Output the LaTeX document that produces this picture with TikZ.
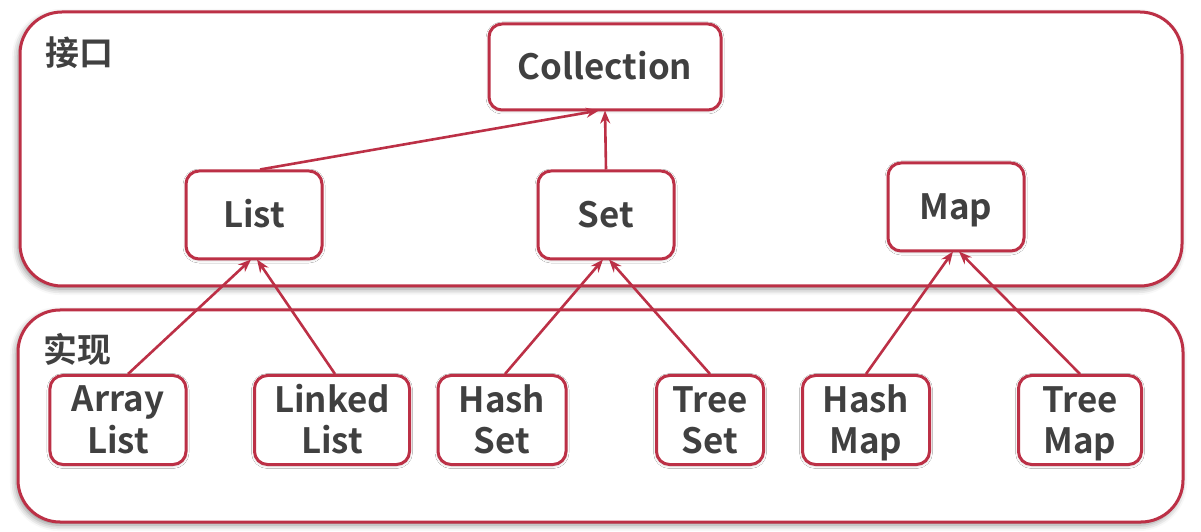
\documentclass[tikz,border=0pt]{standalone}
\usepackage{fontspec}
\setmainfont{Noto Sans CJK SC}[BoldFont={Noto Sans CJK SC Bold}]
\usetikzlibrary{shadows.blur,arrows.meta}
\definecolor{frame}{RGB}{188,48,70}
\definecolor{txt}{RGB}{64,64,64}
\newcommand{\mystrut}{\rule[-7.2bp]{0pt}{40bp}}
\newcommand{\oneline}[1]{\mystrut#1}
\newcommand{\twoline}[2]{\mystrut#1\\\mystrut#2}
\tikzset{
  group/.style={draw=frame, line width=3bp, rounded corners=42bp, fill=white,
    blur shadow={shadow xshift=-2bp, shadow yshift=-3bp, shadow blur radius=6bp, shadow opacity=45}},
  box/.style={draw=frame, line width=3bp, rounded corners=13bp, fill=white,
    text=txt, font=\fontsize{35}{40}\selectfont\bfseries, align=center,
    inner sep=0pt, blur shadow={shadow xshift=0bp, shadow yshift=-1bp, shadow blur radius=3bp, shadow opacity=25}},
  grouplabel/.style={text=txt, font=\fontsize{34}{38}\selectfont\bfseries, anchor=west, inner sep=0pt},
  link/.style={draw=frame, line width=2.6bp, -{Stealth[length=13bp,width=10bp]}}
}
\begin{document}
\begin{tikzpicture}[x=1bp,y=-1bp]
\useasboundingbox (0,0) rectangle (1201,532);
% group frames
\path[group] (20,12) rectangle (1182,286);
\path[group] (18,310) rectangle (1183,522);
\node[grouplabel] (lif) at (45,53) {接口};
\node[grouplabel] (limpl) at (43,349) {实现};
% interface nodes
\node[box, minimum width=232bp, minimum height=86bp] (coll) at (605,67) {\oneline{Collection}};
\node[box, minimum width=136bp, minimum height=88bp] (list) at (254,215) {\oneline{List}};
\node[box, minimum width=136bp, minimum height=88bp] (set) at (606,215) {\oneline{Set}};
\node[box, minimum width=136bp, minimum height=88bp] (map) at (956,207) {\oneline{Map}};
% implementation nodes
\node[box, minimum width=136bp, minimum height=89bp] (al) at (118,420) {\twoline{Array}{List}};
\node[box, minimum width=155bp, minimum height=89bp] (ll) at (332,420) {\twoline{Linked}{List}};
\node[box, minimum width=128bp, minimum height=89bp] (hs) at (502,420) {\twoline{Hash}{Set}};
\node[box, minimum width=107bp, minimum height=89bp] (ts) at (710,420) {\twoline{Tree}{Set}};
\node[box, minimum width=127bp, minimum height=89bp] (hm) at (866,420) {\twoline{Hash}{Map}};
\node[box, minimum width=123bp, minimum height=89bp] (tm) at (1080,420) {\twoline{Tree}{Map}};
% connectors
\draw[link] ([xshift=6bp]list.north) -- ([xshift=-6bp,yshift=1bp]coll.south);
\draw[link] (set.north) -- ([yshift=1bp]coll.south);
\draw[link] ([xshift=10bp]al.north) -- ([xshift=-3bp,yshift=1bp]list.south);
\draw[link] ([xshift=3bp]ll.north) -- ([xshift=3bp,yshift=1bp]list.south);
\draw[link] ([xshift=3bp]hs.north) -- ([xshift=-3bp,yshift=1bp]set.south);
\draw[link] (ts.north) -- ([xshift=3bp,yshift=1bp]set.south);
\draw[link] (hm.north) -- ([xshift=-3bp,yshift=1bp]map.south);
\draw[link] (tm.north) -- ([xshift=3bp,yshift=1bp]map.south);
\end{tikzpicture}
\end{document}
